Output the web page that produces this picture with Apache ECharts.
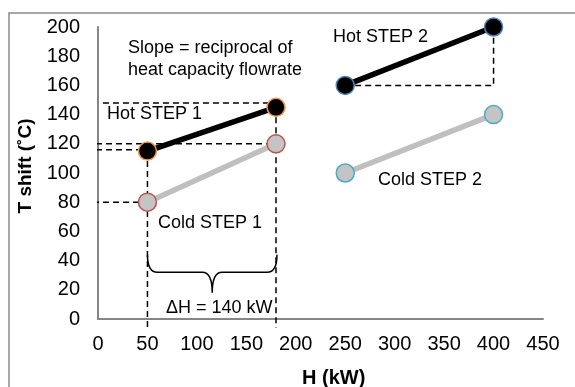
<!DOCTYPE html>
<html>
<head>
<meta charset="utf-8">
<script src="https://cdn.jsdelivr.net/npm/echarts@6/dist/echarts.min.js"></script>
<style>
  html, body { margin: 0; padding: 0; background: #fff; }
  #chart { width: 575px; height: 387px; }
</style>
</head>
<body>
<div id="chart"></div>
<script>
// stream steps (H kW, T shift C)
var hotStep1 = [[50, 115], [180, 145]];
var hotStep2 = [[250, 160], [400, 200]];
var coldStep1 = [[50, 80], [180, 120]];
var coldStep2 = [[250, 100], [400, 140]];

// dashed guide lines
var guides = [
    [[5, 148], [180, 148]],
    [[-2, 120], [180, 120]],
    [[-2, 116], [50, 116]],
    [[-5, 80], [50, 80]],
    [[50, 115], [50, -6]],
    [[180, 145], [180, -6]],
    [[250, 160], [400, 160], [400, 200]]
];

// brace under cold step 1: [x start, x end, y ends, y middle, y tip]
var brace = [[50, 181, 44, 32, 18]];

var FONT = "'Liberation Sans', Arial, sans-serif";

var series = [];

// guides go underneath
guides.forEach(function(g) {
    series.push({
        type: 'line',
        data: g,
        symbol: 'none',
        clip: false,
        silent: true,
        z: 1,
        lineStyle: { color: '#000', width: 1.5, type: [6, 4] }
    });
});

function stepSeries(name, data, lineColor, fill, border) {
    return {
        name: name,
        type: 'line',
        data: data,
        symbol: 'circle',
        symbolSize: 18,
        z: 3,
        lineStyle: { color: lineColor, width: 5.5 },
        itemStyle: { color: fill, borderColor: border, borderWidth: 1.5 }
    };
}

series.push(stepSeries('Cold STEP 1', coldStep1, '#bfbfbf', '#c4c4c4', '#c0504d'));
series.push(stepSeries('Cold STEP 2', coldStep2, '#bfbfbf', '#c4c4c4', '#4bacc6'));
series.push(stepSeries('Hot STEP 1', hotStep1, '#000', '#000', '#f79646'));
series.push(stepSeries('Hot STEP 2', hotStep2, '#000', '#000', '#4f81bd'));

// the curly brace
series.push({
    type: 'custom',
    data: brace,
    encode: { x: [0, 1], y: [2, 3, 4] },
    silent: true,
    z: 2,
    renderItem: function(params, api) {
        var x0 = api.value(0), x1 = api.value(1);
        var yE = api.value(2), yM = api.value(3), yT = api.value(4);
        var xm = (x0 + x1) / 2;
        var p = function(x, y) { return api.coord([x, y]); };
        var a = p(x0, yE), b = p(x0, yM), c = p(x0 + 10, yM), d = p(xm - 10, yM),
            e = p(xm, yM), f = p(xm, yT), g = p(xm + 10, yM), h = p(x1 - 10, yM),
            i = p(x1, yM), j = p(x1, yE);
        var path = 'M' + a + 'Q' + b + ' ' + c + 'L' + d + 'Q' + e + ' ' + f +
                   'Q' + e + ' ' + g + 'L' + h + 'Q' + i + ' ' + j;
        path = path.replace(/,/g, ' ');
        return {
            type: 'path',
            shape: { pathData: path },
            style: { fill: 'none', stroke: '#000', lineWidth: 1.5 }
        };
    }
});

function txt(str, x, y, size, bold, rot) {
    return {
        type: 'text',
        x: x, y: y,
        rotation: rot || 0,
        style: {
            text: str,
            fill: '#000',
            font: (bold ? 'bold ' : '') + size + 'px ' + FONT,
            textVerticalAlign: 'middle',
            textAlign: rot ? 'center' : 'left',
            lineHeight: 22
        },
        z: 10
    };
}

var chart = echarts.init(document.getElementById('chart'), null, { renderer: 'canvas' });
chart.setOption({
    animation: false,
    backgroundColor: '#fff',
    grid: { left: 98, right: 32, top: 27, bottom: 68 },
    xAxis: {
        type: 'value',
        min: 0, max: 450, interval: 50,
        axisLine: { show: true, onZero: false, lineStyle: { color: '#868686', width: 2 } },
        axisTick: { show: false },
        splitLine: { show: false },
        axisLabel: { color: '#000', fontSize: 20, fontFamily: FONT, margin: 15 }
    },
    yAxis: {
        type: 'value',
        min: 0, max: 200, interval: 20,
        axisLine: { show: true, onZero: false, lineStyle: { color: '#868686', width: 2 } },
        axisTick: { show: false },
        splitLine: { show: false },
        axisLabel: { color: '#000', fontSize: 20, fontFamily: FONT, margin: 18 }
    },
    graphic: [
        {
            type: 'rect',
            shape: { x: 9, y: 13, width: 600, height: 420 },
            style: { fill: 'none', stroke: '#8a8a8a', lineWidth: 1.5 },
            z: 0
        },
        txt('Slope = reciprocal of\nheat capacity flowrate', 128, 59, 18),
        txt('Hot STEP 1', 107, 114, 18),
        txt('Hot STEP 2', 333, 37, 18),
        txt('Cold STEP 2', 378, 180, 18),
        txt('Cold STEP 1', 158, 223, 18),
        txt('\u0394H = 140 kW', 166, 308, 18),
        txt('H (kW)', 302, 378, 20, true),
        txt('T shift (\u02daC)', 26, 166, 19, true, -Math.PI / 2 * -1)
    ],
    series: series
});
</script>
</body>
</html>
